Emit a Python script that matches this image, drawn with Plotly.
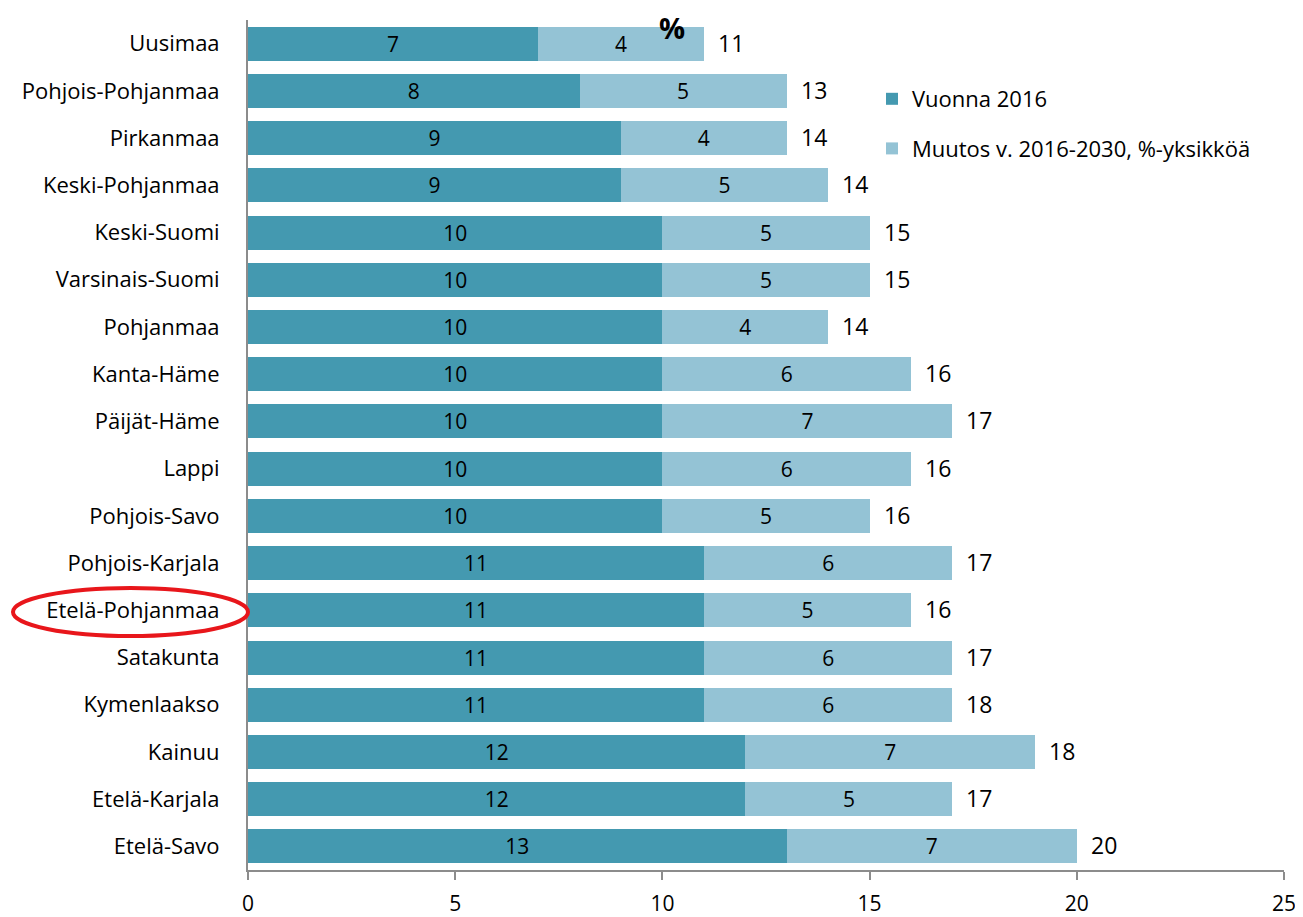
import plotly.graph_objects as go

regions = ["Uusimaa", "Pohjois-Pohjanmaa", "Pirkanmaa", "Keski-Pohjanmaa", "Keski-Suomi",
           "Varsinais-Suomi", "Pohjanmaa", "Kanta-Häme", "Päijät-Häme", "Lappi",
           "Pohjois-Savo", "Pohjois-Karjala", "Etelä-Pohjanmaa", "Satakunta",
           "Kymenlaakso", "Kainuu", "Etelä-Karjala", "Etelä-Savo"]
v2016 = [7, 8, 9, 9, 10, 10, 10, 10, 10, 10, 10, 11, 11, 11, 11, 12, 12, 13]
change = [4, 5, 4, 5, 5, 5, 4, 6, 7, 6, 5, 6, 5, 6, 6, 7, 5, 7]
totals = [11, 13, 14, 14, 15, 15, 14, 16, 17, 16, 16, 17, 16, 17, 18, 18, 17, 20]
x_ticks = [0, 5, 10, 15, 20, 25]

FONT = "Open Sans"
dark = "#4499B0"
light = "#94C3D5"

# page body has an 8px margin, so the figure is made 8px smaller
OFF = 8

fig = go.Figure()
fig.add_trace(go.Bar(
    y=regions, x=v2016, orientation="h", name="Vuonna 2016",
    marker=dict(color=dark, line=dict(width=0)),
    text=v2016, textposition="inside", insidetextanchor="middle", constraintext="none",
    textfont=dict(family=FONT, size=21, color="black"), textangle=0,
    legendgroup="a"))
fig.add_trace(go.Bar(
    y=regions, x=change, orientation="h", name="Muutos v. 2016-2030, %-yksikköä",
    marker=dict(color=light, line=dict(width=0)),
    text=change, textposition="inside", insidetextanchor="middle", constraintext="none",
    textfont=dict(family=FONT, size=21, color="black"), textangle=0,
    legendgroup="b"))

for r, a, b, t in zip(regions, v2016, change, totals):
    fig.add_annotation(x=a + b, y=r, xref="x", yref="y", text=str(t),
                       showarrow=False, xanchor="left", xshift=12, yshift=1,
                       font=dict(family=FONT, size=23, color="black"))

fig.add_annotation(x=(672 - 248) / 1036, y=(870 - 28) / 850, xref="paper", yref="paper",
                   text="<b>%</b>", showarrow=False, xanchor="center", yanchor="middle",
                   font=dict(family=FONT, size=29, color="black"))

fig.add_shape(type="circle", xref="paper", yref="paper",
              x0=(13 - 248) / 1036, x1=0.0, y0=(870 - 636) / 850, y1=(870 - 588) / 850,
              line=dict(color="#E8161B", width=4))

fig.update_layout(
    barmode="stack", bargap=0.28,
    width=1303 - OFF, height=917 - OFF,
    margin=dict(l=248 - OFF, r=19, t=20 - OFF, b=47, autoexpand=False),
    plot_bgcolor="white", paper_bgcolor="white",
    font=dict(family=FONT, size=20, color="black"),
    showlegend=True,
    legend=dict(x=(872 - 248) / 1036, y=(870 - 78) / 850, xanchor="left", yanchor="top",
                font=dict(family=FONT, size=22, color="black"),
                traceorder="grouped", tracegroupgap=18, bgcolor="rgba(0,0,0,0)"),
    xaxis=dict(range=[0, 25], tickvals=x_ticks, showgrid=False, zeroline=False,
               showline=True, linecolor="#8C8C8C", linewidth=2,
               ticks="outside", ticklen=8, tickcolor="#8C8C8C", tickwidth=2,
               tickfont=dict(family=FONT, size=21), ticklabelstandoff=6, automargin=False),
    yaxis=dict(autorange="reversed", showgrid=False, zeroline=False,
               showline=True, linecolor="#8C8C8C", linewidth=2,
               ticks="", tickfont=dict(family=FONT, size=22), ticklabelstandoff=22,
               automargin=False),
)

fig.write_html("out.html")
